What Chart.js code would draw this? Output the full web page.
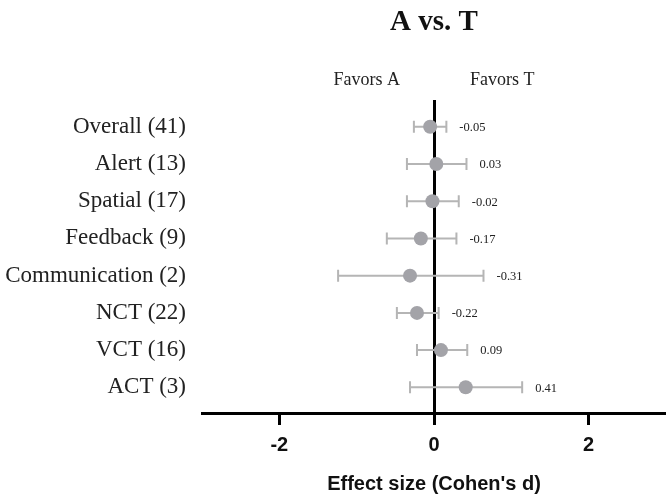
<!DOCTYPE html>
<html>
<head>
<meta charset="utf-8">
<script src="https://cdn.jsdelivr.net/npm/chart.js@4"></script>
<style>
  html, body { margin: 0; padding: 0; background: #fff; }
  #wrap { width: 666px; height: 496px; }
</style>
</head>
<body>
<div id="wrap"><canvas id="chart"></canvas></div>
<script>
// forest plot data
const categories = ["Overall (41)", "Alert (13)", "Spatial (17)", "Feedback (9)",
  "Communication (2)", "NCT (22)", "VCT (16)", "ACT (3)"];
const effects = [-0.05, 0.03, -0.02, -0.17, -0.31, -0.22, 0.09, 0.41];
const ciLow = [-0.26, -0.35, -0.35, -0.61, -1.24, -0.48, -0.22, -0.31];
const ciHigh = [0.16, 0.42, 0.32, 0.29, 0.64, 0.06, 0.43, 1.14];
const xTicks = [-2, 0, 2];

const serif = "'Liberation Serif', 'Times New Roman', serif";
const sans = "'Liberation Sans', Arial, sans-serif";

const errorBars = {
  id: "errorBars",
  beforeDatasetsDraw(chart) {
    const ctx = chart.ctx;
    const x = chart.scales.x;
    const y = chart.scales.y;
    ctx.save();
    ctx.strokeStyle = "#b5b5b5";
    ctx.lineWidth = 2;
    for (let i = 0; i < effects.length; i++) {
      const yp = y.getPixelForValue(i);
      const x0 = x.getPixelForValue(ciLow[i]);
      const x1 = x.getPixelForValue(ciHigh[i]);
      ctx.beginPath();
      ctx.moveTo(x0, yp); ctx.lineTo(x1, yp);
      ctx.moveTo(x0, yp - 6); ctx.lineTo(x0, yp + 6);
      ctx.moveTo(x1, yp - 6); ctx.lineTo(x1, yp + 6);
      ctx.stroke();
    }
    ctx.restore();
  },
  afterDatasetsDraw(chart) {
    const ctx = chart.ctx;
    const x = chart.scales.x;
    const y = chart.scales.y;
    ctx.save();
    ctx.fillStyle = "#222";
    ctx.font = "12.5px " + serif;
    ctx.textAlign = "left";
    ctx.textBaseline = "middle";
    for (let i = 0; i < effects.length; i++) {
      ctx.fillText(effects[i].toFixed(2), x.getPixelForValue(ciHigh[i]) + 13, y.getPixelForValue(i) + 1);
    }
    // title + favors labels
    const zx = x.getPixelForValue(0);
    const area = chart.chartArea;
    ctx.font = "bold 29px " + serif;
    ctx.textAlign = "center";
    ctx.fillStyle = "#111";
    ctx.fillText("A vs. T", (area.left + area.right) / 2, 23);
    ctx.font = "18px " + serif;
    ctx.fillStyle = "#222";
    ctx.textAlign = "right";
    ctx.fillText("Favors A", zx - 34, 80);
    ctx.textAlign = "left";
    ctx.fillText("Favors T", zx + 36, 80);
    ctx.restore();
  }
};

new Chart(document.getElementById("chart"), {
  type: "scatter",
  data: {
    datasets: [{
      data: effects.map((v, i) => ({ x: v, y: i })),
      backgroundColor: "#a3a3a8",
      borderWidth: 0,
      pointRadius: 7,
      pointHoverRadius: 7
    }]
  },
  options: {
    responsive: true,
    maintainAspectRatio: false,
    animation: false,
    layout: { autoPadding: false, padding: { top: 100, right: 0, left: 0, bottom: 0 } },
    plugins: { legend: { display: false }, tooltip: { enabled: false } },
    scales: {
      x: {
        min: -3,
        max: 3,
        afterBuildTicks(scale) { scale.ticks = xTicks.map(v => ({ value: v })); },
        afterFit(scale) { scale.height = 83; },
        grid: {
          drawOnChartArea: true,
          color: ctx => (ctx.tick && ctx.tick.value === 0 ? "#000" : "rgba(0,0,0,0)"),
          lineWidth: 3,
          drawTicks: true,
          tickLength: 12,
          tickColor: "#000",
          tickWidth: 3
        },
        border: { display: true, color: "#000", width: 3 },
        ticks: {
          color: "#111",
          font: { family: sans, size: 20, weight: "bold" },
          padding: 8
        },
        title: {
          display: true,
          text: "Effect size (Cohen's d)",
          color: "#111",
          font: { family: sans, size: 20, weight: "bold" },
          padding: { top: 11, bottom: 0 }
        }
      },
      y: {
        reverse: true,
        min: -0.72,
        max: 7.69,
        afterBuildTicks(scale) { scale.ticks = categories.map((c, i) => ({ value: i })); },
        afterFit(scale) { scale.width = 202; },
        grid: { display: false },
        border: { display: false },
        ticks: {
          callback: (v) => categories[v],
          color: "#222",
          font: { family: serif, size: 23 },
          padding: 8
        }
      }
    }
  },
  plugins: [errorBars]
});
</script>
</body>
</html>
